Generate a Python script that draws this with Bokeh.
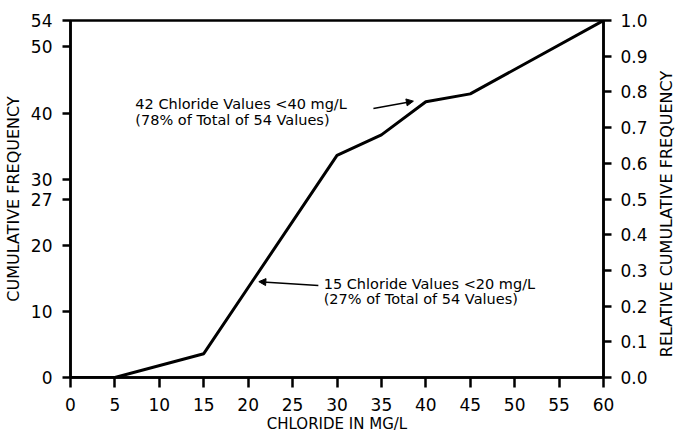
import math
from bokeh.plotting import figure
from bokeh.models import (Range1d, LinearAxis, FixedTicker, PrintfTickFormatter,
                          Arrow, NormalHead)
from bokeh.layouts import row
from bokeh.core.properties import value
from bokeh.embed import file_html
from bokeh.resources import INLINE

# Data
chloride = [0, 5, 15, 30, 35, 40, 45, 60]
cum_freq = [0, 0, 3.6, 33.6, 36.7, 41.7, 42.9, 54]
x_ticks = [0, 5, 10, 15, 20, 25, 30, 35, 40, 45, 50, 55, 60]
left_ticks = [0, 10, 20, 27, 30, 40, 50, 54]
right_ticks = [0.0, 0.1, 0.2, 0.3, 0.4, 0.5, 0.6, 0.7, 0.8, 0.9, 1.0]

ann1_lines = ["42 Chloride Values <40 mg/L", "(78% of Total of 54 Values)"]
ann1_pos = (7.3, 41.4, 38.9)
ann1_arrow = (34.1, 40.7, 38.6, 41.8)
ann2_lines = ["15 Chloride Values <20 mg/L", "(27% of Total of 54 Values)"]
ann2_pos = (28.5, 14.2, 11.8)
ann2_arrow = (27.9, 13.9, 21.2, 14.5)
right_title = "RELATIVE CUMULATIVE FREQUENCY"

FONT = "DejaVu Sans"
H = 433

p = figure(frame_width=533, frame_height=357,
           x_range=Range1d(0, 60), y_range=Range1d(0, 54),
           output_backend="svg", toolbar_location=None,
           min_border_left=70, min_border_right=53,
           min_border_top=20, min_border_bottom=56)
p.extra_y_ranges = {"rel": Range1d(0, 1)}

p.xgrid.visible = False
p.ygrid.visible = False
p.outline_line_color = "black"
p.outline_line_width = 2.5
p.background_fill_color = "white"
p.border_fill_color = "white"

p.line(chloride, cum_freq, line_color="black", line_width=3)

def style_axis(ax):
    ax.axis_line_width = 2.5
    ax.axis_line_color = "black"
    ax.major_tick_line_width = 2.5
    ax.major_tick_line_color = "black"
    ax.major_tick_in = 0
    ax.major_tick_out = 8
    ax.minor_tick_line_color = None
    ax.major_label_text_font = FONT
    ax.major_label_text_font_size = "17px"
    ax.major_label_text_color = "black"
    ax.axis_label_text_font = FONT
    ax.axis_label_text_font_size = "16px"
    ax.axis_label_text_font_style = "normal"
    ax.axis_label_text_color = "black"

xa = p.xaxis[0]
xa.ticker = FixedTicker(ticks=x_ticks)
xa.axis_label = "CHLORIDE IN MG/L"
style_axis(xa)
xa.axis_label_text_font_size = "15px"
xa.major_tick_out = 10
xa.major_label_standoff = 10
xa.axis_label_standoff = 1

ya = p.yaxis[0]
ya.ticker = FixedTicker(ticks=left_ticks)
ya.axis_label = "CUMULATIVE FREQUENCY"
style_axis(ya)
ya.major_label_standoff = 10
ya.axis_label_standoff = 5

ra = LinearAxis(y_range_name="rel", ticker=FixedTicker(ticks=right_ticks),
                formatter=PrintfTickFormatter(format="%.1f"))
style_axis(ra)
ra.major_label_standoff = 9
p.add_layout(ra, "right")

for lines, pos in ((ann1_lines, ann1_pos), (ann2_lines, ann2_pos)):
    x0, y1, y2 = pos
    p.text(x=[x0, x0], y=[y1, y2], text=lines, text_font=value(FONT),
           text_font_size="14.5px", text_baseline="middle", text_align="left",
           text_color="black")

for (xs, ys, xe, ye) in (ann1_arrow, ann2_arrow):
    p.add_layout(Arrow(end=NormalHead(size=7, fill_color="black", line_color="black"),
                       x_start=xs, y_start=ys, x_end=xe, y_end=ye,
                       line_color="black", line_width=1.5))

# narrow side panel holding the right-hand axis title (reads bottom to top)
p2 = figure(width=19, height=H, x_range=Range1d(0, 1), y_range=Range1d(0, H),
            output_backend="svg", toolbar_location=None,
            min_border_left=0, min_border_right=0, min_border_top=0, min_border_bottom=0)
p2.axis.visible = False
p2.xgrid.visible = False
p2.ygrid.visible = False
p2.outline_line_color = None
p2.text(x=[0.5], y=[H - 236], text=[right_title], angle=math.pi / 2,
        text_font=value(FONT), text_font_size="16px", text_align="center",
        text_baseline="middle", text_color="black")

layout = row(p, p2, spacing=0)
open("out.html", "w").write(file_html(layout, INLINE))
